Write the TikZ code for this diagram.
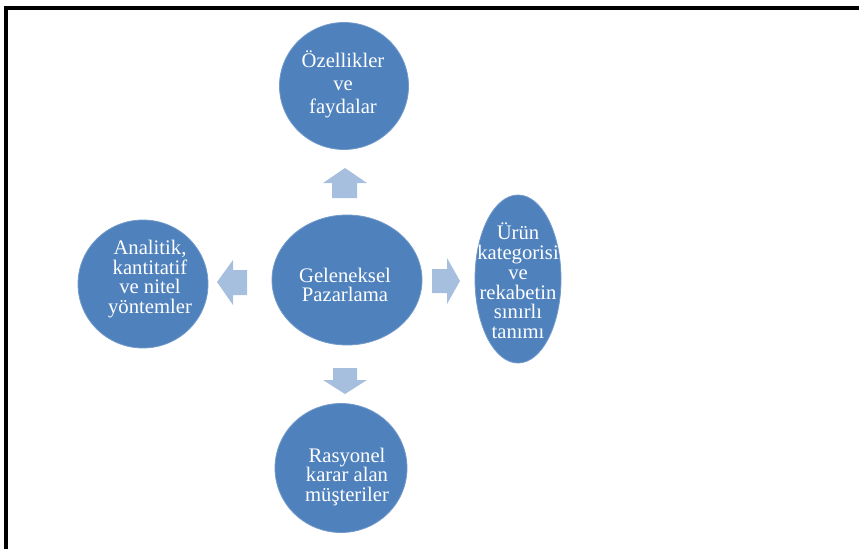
\documentclass[tikz,border=0pt]{standalone}
\usepackage{fontspec}
\setmainfont{Liberation Serif}
\usetikzlibrary{shapes.geometric}
\definecolor{circblue}{HTML}{4F81BD}
\definecolor{arrblue}{HTML}{A7BFDE}
\tikzset{
  bub/.style={ellipse, fill=circblue, draw=circblue!80!white, line width=0.6pt, inner sep=0pt},
  txt/.style={text=white, align=center, inner sep=0pt, font=\fontsize{15.5pt}{14.8pt}\selectfont},
  blockarrow/.style={fill=arrblue, draw=none},
  frame/.style={line width=3pt, black}
}
\begin{document}
\begin{tikzpicture}[x=0.75pt,y=-0.75pt]
\useasboundingbox (0,0) rectangle (859,549);
% frame (top and left only)
\coordinate (ftl) at (4,8);
\coordinate (ftr) at (859,8);
\coordinate (fbl) at (6,549);
\draw[frame] (ftr) -- (4,8);
\draw[frame] (6,6.5) -- (fbl);

% bubbles
\node[bub, minimum width=129*0.75pt, minimum height=127*0.75pt] (top) at (344,86) {};
\node[bub, minimum width=150*0.75pt, minimum height=130*0.75pt] (mid) at (347,280) {};
\node[bub, minimum width=130*0.75pt, minimum height=128*0.75pt] (left) at (143,284) {};
\node[bub, minimum width=86*0.75pt, minimum height=168*0.75pt] (right) at (518,279) {};
\node[bub, minimum width=132*0.75pt, minimum height=129*0.75pt] (bot) at (341,468) {};

% texts
\node[txt, font=\fontsize{15.5pt}{17.2pt}\selectfont] (ttop) at (343,84) {Özellikler\\ve\\faydalar};
\node[txt] (tmid) at (345,285) {Geleneksel\\Pazarlama};
\node[txt] (tleft) at (150,279) {Analitik,\\kantitatif\\ve nitel\\yöntemler};
\node[txt] (tright) at (518,281) {Ürün\\kategorisi\\ve\\rekabetin\\sınırlı\\tanımı};
\node[txt] (tbot) at (347,477) {Rasyonel\\karar alan\\müşteriler};

% block arrows
\fill[blockarrow] (345,168) -- (367,183) -- (357,183) -- (357,198) -- (332,198) -- (332,183) -- (323,183) -- cycle;
\fill[blockarrow] (345,394) -- (367,380) -- (357,380) -- (357,368) -- (333,368) -- (333,380) -- (323,380) -- cycle;
\fill[blockarrow] (460,281) -- (447,258) -- (447,269) -- (432,269) -- (432,293) -- (447,293) -- (447,304) -- cycle;
\fill[blockarrow] (217,282) -- (233,260) -- (233,270) -- (247,270) -- (247,295) -- (233,295) -- (233,305) -- cycle;
\end{tikzpicture}
\end{document}
